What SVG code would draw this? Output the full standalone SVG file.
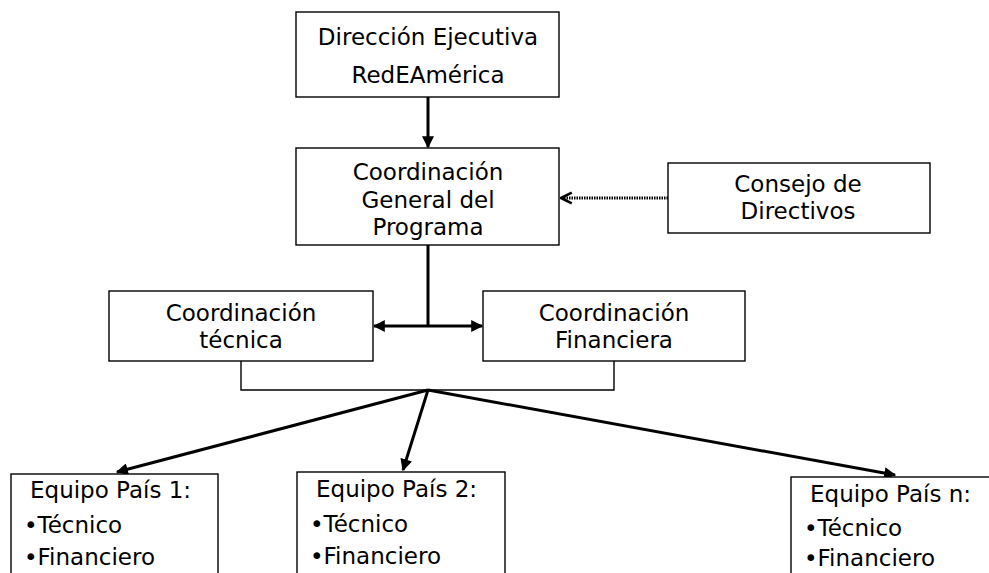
<svg xmlns="http://www.w3.org/2000/svg" width="989" height="573" viewBox="0 0 989 573">
<style>
.box{fill:#fff;stroke:#000;stroke-width:1.4}
.t{font-family:"DejaVu Sans",Verdana,sans-serif;font-size:23px;fill:#000;text-anchor:middle}
.b{font-family:"DejaVu Sans",Verdana,sans-serif;font-size:23px;fill:#000}
.c{stroke:#000;stroke-width:3;fill:none}
</style>
<defs>
<marker id="ah" viewBox="0 0 10 10" refX="9" refY="5" markerWidth="4.2" markerHeight="4" orient="auto" markerUnits="strokeWidth">
<path d="M0,0 L10,5 L0,10 z" fill="#000"/>
</marker>
<marker id="open" viewBox="0 0 10 10" refX="9" refY="5" markerWidth="4.5" markerHeight="4.5" orient="auto" markerUnits="strokeWidth">
<path d="M1,1 L9,5 L1,9" fill="none" stroke="#000" stroke-width="2"/>
</marker>
</defs>
<rect width="989" height="573" fill="#fff"/>
<g id="connectors">
<line class="c" x1="428" y1="97" x2="428" y2="147" marker-end="url(#ah)"/>
<line x1="668" y1="198" x2="562" y2="198" stroke="#000" stroke-width="3" stroke-dasharray="1.5,1"/>
<line x1="575" y1="198" x2="561" y2="198" stroke="none" marker-end="url(#open)" stroke-width="3"/>
<line class="c" x1="428" y1="245" x2="428" y2="326"/>
<line class="c" x1="428" y1="326" x2="374" y2="326" marker-end="url(#ah)"/>
<line class="c" x1="428" y1="326" x2="482" y2="326" marker-end="url(#ah)"/>
<polyline points="241,361 241,390 614,390 614,361" fill="none" stroke="#000" stroke-width="1.4"/>
<line class="c" x1="428" y1="390" x2="117" y2="472" marker-end="url(#ah)"/>
<line class="c" x1="428" y1="390" x2="403" y2="470" marker-end="url(#ah)"/>
<line class="c" x1="428" y1="390" x2="895" y2="475" marker-end="url(#ah)"/>
</g>
<g id="n1"><rect class="box" x="296" y="12" width="263" height="85"/>
<text class="t" x="428" y="45">Dirección Ejecutiva</text>
<text class="t" x="428" y="83">RedEAmérica</text></g>
<g id="n2"><rect class="box" x="296" y="148" width="263" height="97"/>
<text class="t" x="428" y="180">Coordinación</text>
<text class="t" x="428" y="208">General del</text>
<text class="t" x="428" y="235">Programa</text></g>
<g id="n3"><rect class="box" x="668" y="163" width="262" height="70"/>
<text class="t" x="798" y="192">Consejo de</text>
<text class="t" x="798" y="219">Directivos</text></g>
<g id="n4"><rect class="box" x="109" y="291" width="264" height="70"/>
<text class="t" x="241" y="321">Coordinación</text>
<text class="t" x="241" y="348">técnica</text></g>
<g id="n5"><rect class="box" x="483" y="291" width="262" height="70"/>
<text class="t" x="614" y="321">Coordinación</text>
<text class="t" x="614" y="348">Financiera</text></g>
<g id="n6"><rect class="box" x="11" y="474" width="207" height="120"/>
<text class="b" x="30" y="498">Equipo País 1:</text>
<text class="b" x="24" y="533">•Técnico</text>
<text class="b" x="24" y="565">•Financiero</text></g>
<g id="n7"><rect class="box" x="297" y="472" width="208" height="120"/>
<text class="b" x="316" y="497">Equipo País 2:</text>
<text class="b" x="310" y="532">•Técnico</text>
<text class="b" x="310" y="564">•Financiero</text></g>
<g id="n8"><rect class="box" x="791" y="477" width="220" height="120"/>
<text class="b" x="810" y="502">Equipo País n:</text>
<text class="b" x="804" y="536">•Técnico</text>
<text class="b" x="804" y="566">•Financiero</text></g>
</svg>
